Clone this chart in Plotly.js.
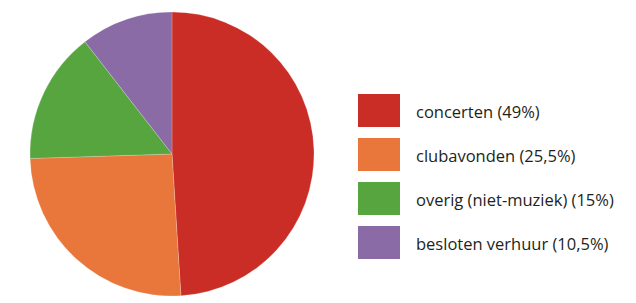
<!DOCTYPE html>
<html>
<head>
<meta charset="utf-8">
<script src="https://cdn.plot.ly/plotly-3.0.1.min.js"></script>
<style>html,body{margin:0;padding:0;background:#fff;}#chart{width:636px;height:303px;}</style>
</head>
<body>
<div id="chart"></div>
<script>
const categories = ["concerten", "clubavonden", "overig (niet-muziek)", "besloten verhuur"];
const values = [49, 25.5, 15, 10.5];
const valueLabels = ["49%", "25,5%", "15%", "10,5%"];
const colors = ["#C92D26", "#E9763B", "#57A53F", "#8A6BA5"];

const W = 636, H = 303;
const shapes = [];
const annotations = [];
categories.forEach((c, i) => {
  const y0 = 94 + i * 44;
  shapes.push({
    type: "rect", xref: "paper", yref: "paper",
    x0: 358 / W, x1: 400 / W,
    y0: 1 - (y0 + 33) / H, y1: 1 - y0 / H,
    fillcolor: colors[i], line: {width: 0}
  });
  annotations.push({
    xref: "paper", yref: "paper",
    x: 414 / W, y: 1 - (y0 + 17) / H,
    xanchor: "left", yanchor: "middle",
    text: c + " (" + valueLabels[i] + ")",
    showarrow: false,
    font: {family: "Open Sans", size: 16.5, color: "#231F20"}
  });
});

const data = [{
  type: "pie",
  labels: categories,
  values: values,
  sort: false,
  direction: "clockwise",
  rotation: 0,
  textinfo: "none",
  hoverinfo: "label+percent",
  marker: {colors: colors, line: {color: "rgba(255,255,255,0.4)", width: 0.5}},
  domain: {x: [30 / W, 314 / W], y: [1 - 296 / H, 1 - 12 / H]},
  showlegend: false
}];

const layout = {
  width: W, height: H,
  margin: {l: 0, r: 0, t: 0, b: 0},
  paper_bgcolor: "#fff",
  showlegend: false,
  shapes: shapes,
  annotations: annotations
};

Plotly.newPlot("chart", data, layout, {displayModeBar: false, staticPlot: true});
</script>
</body>
</html>
